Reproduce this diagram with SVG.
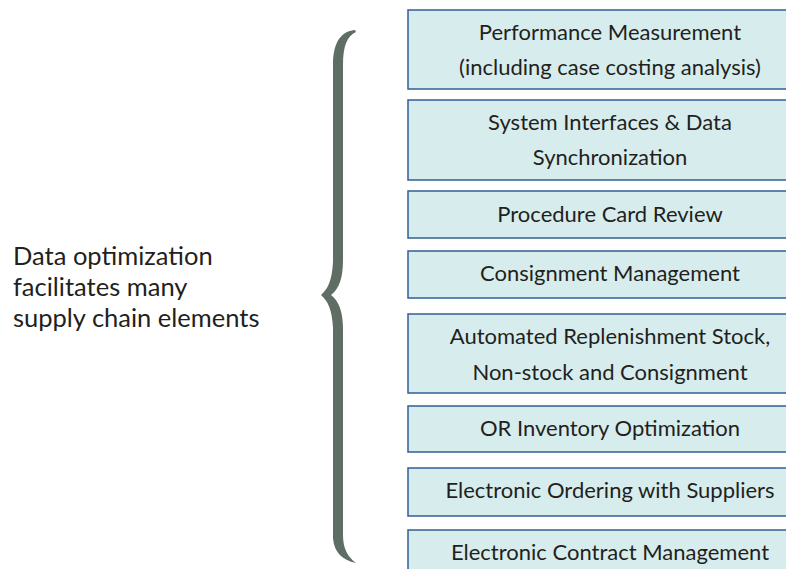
<svg xmlns="http://www.w3.org/2000/svg" width="786" height="569" viewBox="0 0 786 569">
<style>
.box{fill:#d7eded;stroke:#2f5f93;stroke-width:1.5}
.t{font-family:Lato,"Open Sans",sans-serif;font-size:22px;fill:#231f20;text-anchor:middle}
.l{font-family:Lato,"Open Sans",sans-serif;font-size:25.5px;fill:#231f20}
</style>
<rect width="786" height="569" fill="#ffffff"/>
<g id="label">
<text class="l" x="13" y="265">Data optimization</text>
<text class="l" x="13" y="296">facilitates many</text>
<text class="l" x="13" y="327">supply chain elements</text>
</g>
<g id="connectors">
<path fill="#5e6e64" d="M355,30 C344,31 334,38 333,62 L333,262 C332,280 328,289 321,295 C328,301 332,310 333,328 L333,538 C334,552 342,560 356,563 C348,557 343,549 343,535 L343,330 C343,312 339,301 331,295 C339,289 343,278 343,260 L343,65 C343,46 347,36 356,32 Z"/>
</g>
<g id="n1"><rect class="box" x="408" y="10" width="400" height="79"/>
<text class="t" x="610" y="40">Performance Measurement</text>
<text class="t" x="610" y="75">(including case costing analysis)</text></g>
<g id="n2"><rect class="box" x="408" y="100" width="400" height="80"/>
<text class="t" x="610" y="130">System Interfaces &amp; Data</text>
<text class="t" x="610" y="165">Synchronization</text></g>
<g id="n3"><rect class="box" x="408" y="191" width="400" height="47"/>
<text class="t" x="610" y="222">Procedure Card Review</text></g>
<g id="n4"><rect class="box" x="408" y="251" width="400" height="47"/>
<text class="t" x="610" y="281">Consignment Management</text></g>
<g id="n5"><rect class="box" x="408" y="314" width="400" height="79"/>
<text class="t" x="610" y="344">Automated Replenishment Stock,</text>
<text class="t" x="610" y="380">Non-stock and Consignment</text></g>
<g id="n6"><rect class="box" x="408" y="406" width="400" height="46"/>
<text class="t" x="610" y="436">OR Inventory Optimization</text></g>
<g id="n7"><rect class="box" x="408" y="468" width="400" height="48"/>
<text class="t" x="610" y="498">Electronic Ordering with Suppliers</text></g>
<g id="n8"><rect class="box" x="408" y="530" width="400" height="48"/>
<text class="t" x="610" y="560">Electronic Contract Management</text></g>
</svg>
